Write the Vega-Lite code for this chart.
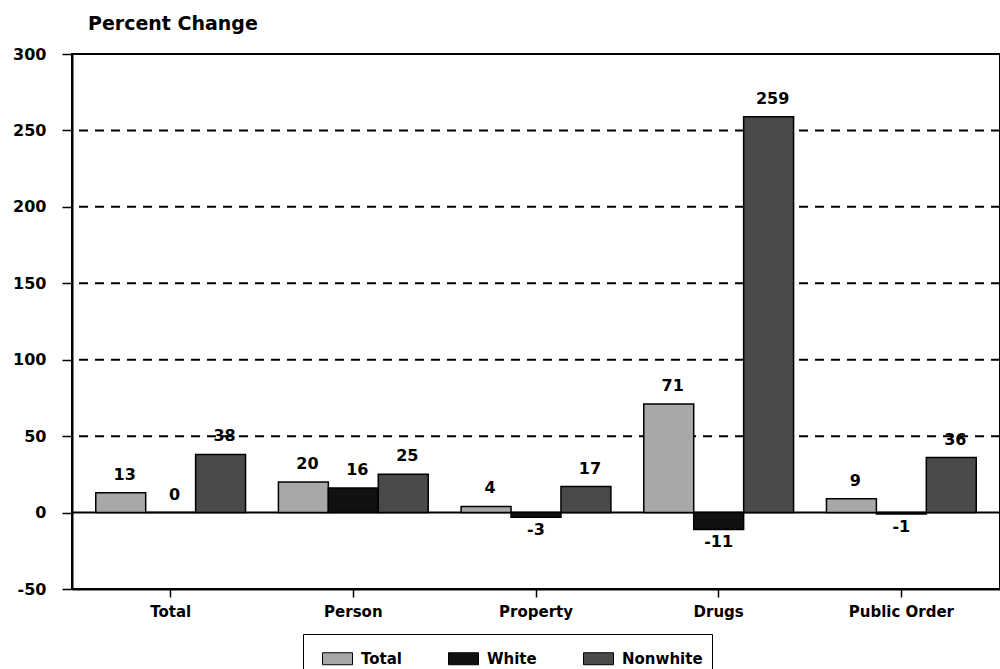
{
  "$schema": "https://vega.github.io/schema/vega-lite/v6.json",
  "width": 928,
  "height": 535,
  "autosize": "none",
  "padding": {"left": 72, "top": 54, "right": 0, "bottom": 80},
  "background": "white",
  "config": {
    "font": "DejaVu Sans",
    "view": {"stroke": "black", "strokeWidth": 2}
  },
  "title": {
    "text": "Percent Change",
    "anchor": "start",
    "frame": "group",
    "dx": 16,
    "offset": 12,
    "fontSize": 19,
    "fontWeight": "bold",
    "color": "black"
  },
  "data": {
    "values": [
      {"offense": "Total", "group": "Total", "value": 13},
      {"offense": "Total", "group": "White", "value": 0},
      {"offense": "Total", "group": "Nonwhite", "value": 38},
      {"offense": "Person", "group": "Total", "value": 20},
      {"offense": "Person", "group": "White", "value": 16},
      {"offense": "Person", "group": "Nonwhite", "value": 25},
      {"offense": "Property", "group": "Total", "value": 4},
      {"offense": "Property", "group": "White", "value": -3},
      {"offense": "Property", "group": "Nonwhite", "value": 17},
      {"offense": "Drugs", "group": "Total", "value": 71},
      {"offense": "Drugs", "group": "White", "value": -11},
      {"offense": "Drugs", "group": "Nonwhite", "value": 259},
      {"offense": "Public Order", "group": "Total", "value": 9},
      {"offense": "Public Order", "group": "White", "value": -1},
      {"offense": "Public Order", "group": "Nonwhite", "value": 36}
    ]
  },
  "encoding": {
    "x": {
      "field": "offense",
      "type": "nominal",
      "sort": ["Total", "Person", "Property", "Drugs", "Public Order"],
      "scale": {"paddingInner": 0.18, "paddingOuter": 0.13},
      "axis": {
        "title": null,
        "labelAngle": 0,
        "labelFontSize": 15,
        "labelFontWeight": "bold",
        "labelColor": "black",
        "labelPadding": 7,
        "tickColor": "black",
        "tickSize": 8,
        "tickWidth": 1.5,
        "domainColor": "black",
        "domainWidth": 2
      }
    },
    "xOffset": {
      "field": "group",
      "type": "nominal",
      "sort": ["Total", "White", "Nonwhite"]
    },
    "y": {
      "field": "value",
      "type": "quantitative",
      "scale": {"domain": [-50, 300], "nice": false},
      "axis": {
        "title": null,
        "values": [-50, 0, 50, 100, 150, 200, 250, 300],
        "labelExpr": "'' + datum.value",
        "labelFontSize": 16,
        "labelFontWeight": "bold",
        "labelColor": "black",
        "labelPadding": 16,
        "tickColor": "black",
        "tickSize": 10,
        "tickWidth": 1.5,
        "domainColor": "black",
        "domainWidth": 2,
        "grid": false
      }
    }
  },
  "layer": [
    {
      "data": {"values": [{"g": 50}, {"g": 100}, {"g": 150}, {"g": 200}, {"g": 250}]},
      "mark": {"type": "rule", "color": "black", "strokeWidth": 2, "strokeDash": [9, 7]},
      "encoding": {"y": {"field": "g", "type": "quantitative"}, "x": null, "xOffset": null}
    },
    {
      "data": {"values": [{"g": 0}]},
      "mark": {"type": "rule", "color": "black", "strokeWidth": 2},
      "encoding": {"y": {"field": "g", "type": "quantitative"}, "x": null, "xOffset": null}
    },
    {
      "mark": {"type": "bar", "stroke": "black", "strokeWidth": 1.5},
      "encoding": {
        "y2": {"datum": 0},
        "color": {
          "field": "group",
          "type": "nominal",
          "sort": ["Total", "White", "Nonwhite"],
          "scale": {"domain": ["Total", "White", "Nonwhite"], "range": ["#a8a8a8", "#111111", "#4a4a4a"]},
          "legend": {
            "title": null,
            "orient": "none",
            "legendX": 231,
            "legendY": 580,
            "direction": "horizontal",
            "symbolType": "M-1,-0.4H1V0.4H-1Z",
            "symbolSize": 900,
            "symbolOffset": 10,
            "symbolStrokeColor": "black",
            "symbolStrokeWidth": 1,
            "labelFontSize": 15,
            "labelFontWeight": "bold",
            "labelColor": "black",
            "labelOffset": 8,
            "columnPadding": 36,
            "strokeColor": "black",
            "padding": 9,
            "fillColor": "white"
          }
        }
      }
    },
    {
      "transform": [{"filter": "datum.value >= 0"}],
      "mark": {"type": "text", "baseline": "bottom", "dy": -10, "dx": 4, "fontSize": 16, "fontWeight": "bold", "color": "black"},
      "encoding": {"text": {"field": "value", "type": "nominal"}}
    },
    {
      "transform": [{"filter": "datum.value < 0"}],
      "mark": {"type": "text", "baseline": "top", "dy": 5, "fontSize": 16, "fontWeight": "bold", "color": "black"},
      "encoding": {"text": {"field": "value", "type": "nominal"}}
    }
  ]
}
